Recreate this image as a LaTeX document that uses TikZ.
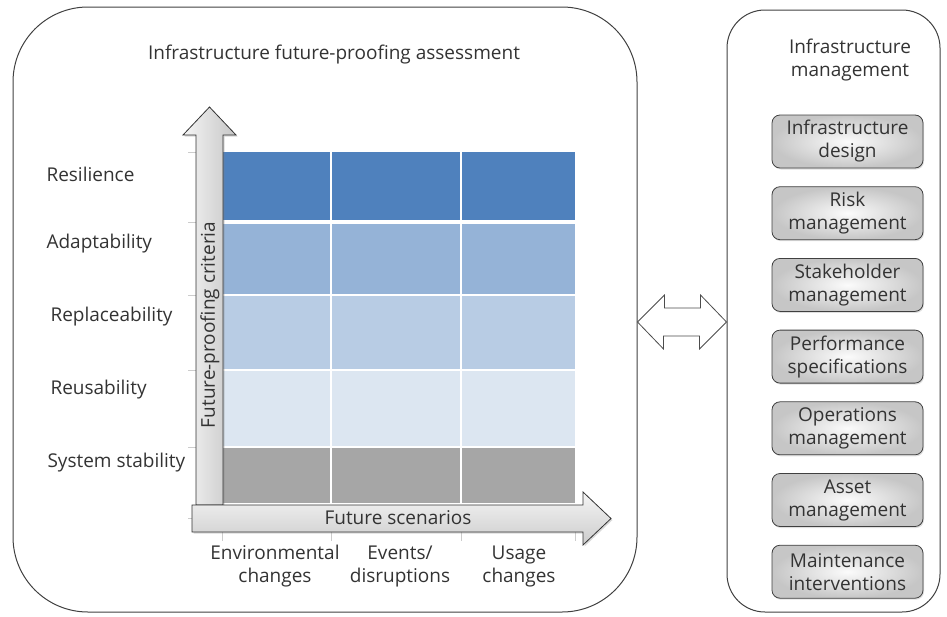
\documentclass[tikz,border=0pt]{standalone}
\usepackage{fontspec}
\setmainfont{Open Sans}
\usetikzlibrary{shadows}

\definecolor{resil}{RGB}{79,129,189}
\definecolor{adapt}{RGB}{149,179,215}
\definecolor{replace}{RGB}{184,204,228}
\definecolor{reuse}{RGB}{220,230,241}
\definecolor{stable}{RGB}{166,166,166}
\definecolor{txt}{RGB}{51,51,51}

\begin{document}
\begin{tikzpicture}[
    x = 1pt,
    y = -1pt,
    every node/.style = {font = \fontsize{19}{23}\selectfont, text = txt},
    frame/.style = {draw = black!75, line width = 1pt, inner sep = 0pt},
    bigframe/.style = {frame, rounded corners = 75pt,
                       minimum width = 624pt, minimum height = 605pt},
    sideframe/.style = {frame, rounded corners = 38pt,
                        minimum width = 213pt, minimum height = 602pt},
    task/.style = {draw = black!75, line width = 0.8pt, rounded corners = 8pt,
                   minimum width = 151pt, minimum height = 53pt, inner sep = 0pt,
                   align = center, inner color = gray!3, outer color = gray!45,
                   drop shadow = {opacity = 0.25, shadow xshift = 1pt, shadow yshift = -1.5pt}},
    axis/.style = {draw = black!80, line width = 0.8pt,
                   drop shadow = {opacity = 0.3, shadow xshift = 1.5pt, shadow yshift = -1.5pt}},
    cellline/.style = {white, line width = 1.3pt},
    tick/.style = {gray!40, line width = 0.6pt},
    crit/.style = {anchor = west},
    scen/.style = {align = center},
    link/.style = {draw = black!70, line width = 0.8pt, fill = white}
  ]
  \useasboundingbox (0,0) rectangle (947,616);

  % Frames
  \node[bigframe] (assess) at (325,309.5) {};
  \node[sideframe] (mgmt) at (833.5,311) {};

  \node (assesstitle) at (334,55) {Infrastructure future-proofing assessment};
  \node[align = center] (mgmttitle) at (850,60) {Infrastructure\\management};

  % Matrix
  \fill[resil] (222,152) rectangle (575,220);
  \fill[adapt] (222,224) rectangle (575,295);
  \fill[replace] (222,295) rectangle (575,370);
  \fill[reuse] (222,370) rectangle (575,447);
  \fill[stable] (222,447) rectangle (575,503);
  \draw[cellline] (331,152) -- (331,503);
  \draw[cellline] (461,152) -- (461,503);
  \draw[cellline] (222,295) -- (575,295);
  \draw[cellline] (222,370) -- (575,370);
  \draw[cellline] (222,447) -- (575,447);

  % Ticks
  \draw[tick] (188,152) -- (196,152);
  \draw[tick] (188,222) -- (196,222);
  \draw[tick] (188,295) -- (196,295);
  \draw[tick] (188,370) -- (196,370);
  \draw[tick] (188,447) -- (196,447);
  \draw[tick] (188,518) -- (196,518);
  \draw[tick] (222,532) -- (222,541);
  \draw[tick] (331,532) -- (331,541);
  \draw[tick] (461,532) -- (461,541);
  \draw[tick] (575,532) -- (575,541);

  % Axes
  \path[axis, left color = gray!8, right color = gray!45]
    (196,505) -- (196,135) -- (183,135) -- (209.5,107) -- (236,135)
    -- (223,135) -- (223,505) -- cycle;
  \path[axis, top color = gray!8, bottom color = gray!40]
    (192,505) -- (583,505) -- (583,492) -- (611,518.5) -- (583,545)
    -- (583,532) -- (192,532) -- cycle;
  \node[rotate = 90] (critaxis) at (210,325) {Future-proofing criteria};
  \node (scenaxis) at (398,518) {Future scenarios};

  % Labels
  \node[crit] (resilience) at (43,174) {Resilience};
  \node[crit] (adaptability) at (43,244) {Adaptability};
  \node[crit] (replaceability) at (47,317) {Replaceability};
  \node[crit] (reusability) at (47,390) {Reusability};
  \node[crit] (stability) at (44,463) {System stability};
  \node[scen] (environmental) at (275,566) {Environmental\\changes};
  \node[scen] (events) at (400,566) {Events/\\disruptions};
  \node[scen] (usage) at (519,566) {Usage\\changes};

  % Management tasks
  \node[task] (design) at (847.5,141.5) {Infrastructure\\design};
  \node[task] (risk) at (847.5,213.2) {Risk\\management};
  \node[task] (stakeholder) at (847.5,284.9) {Stakeholder\\management};
  \node[task] (performance) at (847.5,356.6) {Performance\\specifications};
  \node[task] (operations) at (847.5,428.3) {Operations\\management};
  \node[task] (asset) at (847.5,500) {Asset\\management};
  \node[task] (maintenance) at (847.5,571.7) {Maintenance\\interventions};

  % Link
  \path[link] (assess.east |- 0,322) -- ++(27,-27) -- ++(0,13) -- ++(36,0)
    -- ++(0,-13) -- (mgmt.west |- 0,322) -- ++(-27,27) -- ++(0,-13)
    -- ++(-36,0) -- ++(0,13) -- cycle;
\end{tikzpicture}
\end{document}
